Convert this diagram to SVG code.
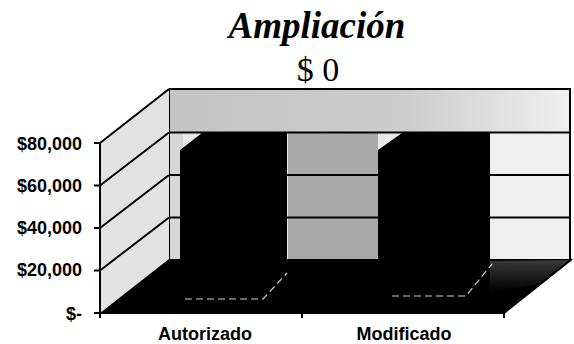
<svg xmlns="http://www.w3.org/2000/svg" width="574" height="344" viewBox="0 0 574 344">
<defs>
<style>
.title{font-family:"Liberation Serif","Times New Roman",serif;fill:#000}
.lbl{font-family:"Liberation Sans",Arial,sans-serif;font-weight:bold;font-size:18px;fill:#000}
.grid{stroke:#000;stroke-width:2;fill:none}
.edge{stroke:#000;stroke-width:2;fill:none}
.bar{fill:#000}
.base{stroke:#cfcfcf;stroke-width:1.2;fill:none;stroke-dasharray:7 4}
</style>
<linearGradient id="band" x1="0" y1="0" x2="1" y2="0">
<stop offset="0" stop-color="#c4c4c4"/>
<stop offset="0.6" stop-color="#cdcdcd"/>
<stop offset="1" stop-color="#f0f0f0"/>
</linearGradient>
<linearGradient id="flr" x1="0" y1="0" x2="0" y2="1">
<stop offset="0" stop-color="#3a3a3a"/>
<stop offset="1" stop-color="#000"/>
</linearGradient>
</defs>
<rect width="574" height="344" fill="#fff"/>
<g id="title">
<text class="title" x="317" y="38" font-size="37" font-weight="bold" font-style="italic" text-anchor="middle">Ampliación</text>
<text class="title" x="318" y="81" font-size="34" text-anchor="middle">$ 0</text>
</g>
<g id="back-wall">
<rect x="169" y="89" width="401" height="171" fill="#e8e8e8"/>
<rect x="169" y="89" width="401" height="44" fill="url(#band)"/>
<rect x="169" y="133" width="14" height="127" fill="#d6d6d6"/>
<rect x="288" y="133" width="90" height="127" fill="#a9a9a9"/>
<rect x="491" y="133" width="79" height="127" fill="#f0f0f0"/>
<path class="grid" d="M169,89 H570 V260 M169,132.5 H570 M169,175 H570 M169,217.5 H570 M169,89 V260"/>
</g>
<g id="left-wall">
<polygon points="100,143 169,89 169,260 100,313" fill="#e2e2e2"/>
<path class="grid" d="M100,143 L169,89 M100,185.5 L169,132.5 M100,228 L169,175 M100,270.5 L169,217.5 M100,143 V313"/>
</g>
<g id="floor">
<polygon points="100,313 504,313 572,259 169,259" fill="#000"/>
<polygon points="490,261 571,260 540,284 505,290 490,292" fill="url(#flr)"/>
</g>
<g id="bar-autorizado">
<polygon class="bar" points="180,150 202,133 287,133 287,282 264,299 180,299"/>
<path class="base" d="M185,299 H263 L287,273"/>
</g>
<g id="bar-modificado">
<polygon class="bar" points="378,150 402,133 490,133 490,282 467,299 378,299"/>
<path class="base" d="M392,296 H466 L492,264"/>
</g>
<g id="axes">
<path class="edge" d="M94,143 H100 M94,185.5 H100 M94,228 H100 M94,270.5 H100 M94,313 H504 L572,259 M100,313 V318 M302,313 V318 M504,313 V318"/>
<text class="lbl" x="82" y="150" text-anchor="end">$80,000</text>
<text class="lbl" x="82" y="192" text-anchor="end">$60,000</text>
<text class="lbl" x="82" y="234" text-anchor="end">$40,000</text>
<text class="lbl" x="82" y="276" text-anchor="end">$20,000</text>
<text class="lbl" x="82" y="320" text-anchor="end">$-</text>
<text class="lbl" x="205" y="340" text-anchor="middle">Autorizado</text>
<text class="lbl" x="404" y="340" text-anchor="middle">Modificado</text>
</g>
</svg>
